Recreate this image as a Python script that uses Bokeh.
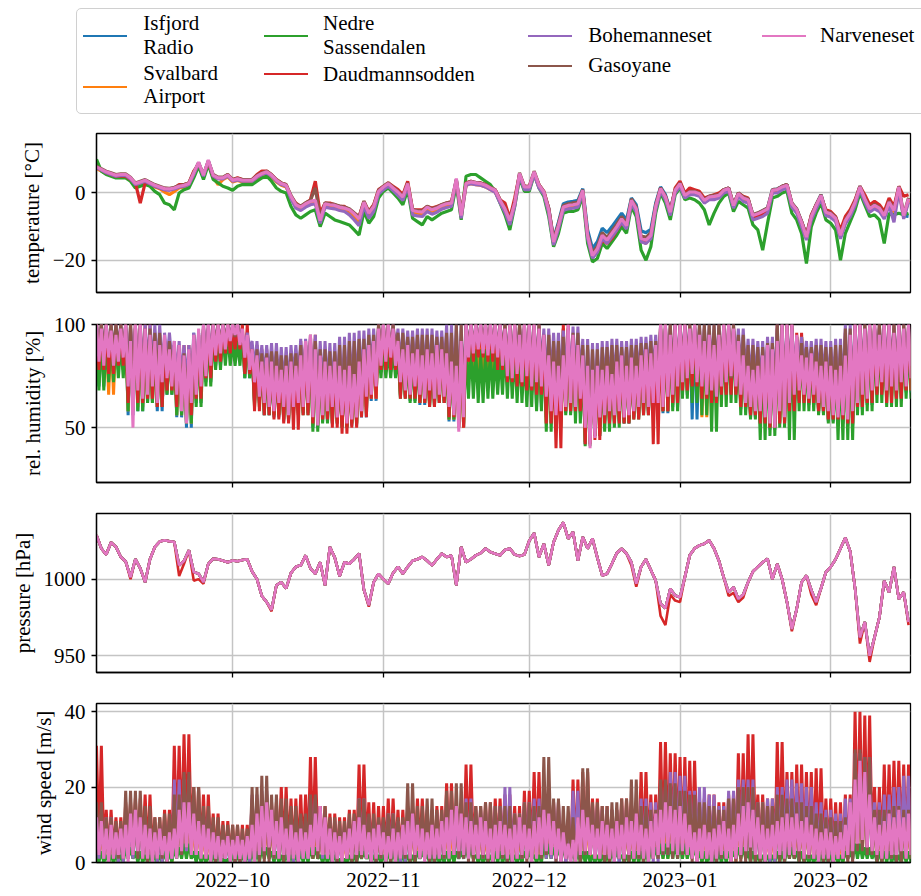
import numpy as np
import pandas as pd
from bokeh.plotting import figure
from bokeh.layouts import column
from bokeh.models import Range1d, FixedTicker, Div
from bokeh.embed import file_html
from bokeh.resources import INLINE

# ---------------------------------------------------------------- data
stations = ["Isfjord Radio", "Svalbard Airport", "Nedre Sassendalen", "Daudmannsodden",
            "Bohemanneset", "Gasoyane", "Narveneset"]
colors = ["#1f77b4", "#ff7f0e", "#2ca02c", "#d62728", "#9467bd", "#8c564b", "#e377c2"]
# legend labels, wrapped as in the reference
legend_labels = ["Isfjord\nRadio", "Svalbard\nAirport", "Nedre\nSassendalen", "Daudmannsodden",
                 "Bohemanneset", "Gasoyane", "Narveneset"]

start_date = "2022-09-03"          # day 0 of every series
span_days = 167.4                  # shown time span
month_ticks = ["2022-10-01", "2022-11-01", "2022-12-01", "2023-01-01", "2023-02-01"]
month_labels = ["2022\u221210", "2022\u221211", "2022\u221212", "2023\u221201", "2023\u221202"]

# temperature [degC], daily values
temp_narveneset = [
    7.8, 7, 6.3, 5.8, 5.3, 5.5, 5.5, 4.5, 2.8, 3.3,
    3.8, 3.0, 2.3, 1.8, 1.3, 1.2, 1.5, 2.0, 2.3, 2.8,
    6, 9.2, 5.3, 9.8, 5.3, 4.5, 4.5, 5.3, 3.8, 4.2,
    3.8, 3.8, 3.8, 5, 5.8, 6.3, 5.3, 3.8, 2.8, 2.3,
    -1, -3.5, -4.2, -3.2, -2.5, -2.2, -8.2, -3.2, -3.5, -3.7,
    -4.2, -4.5, -5, -6.2, -7.7, -2.7, -6, -4, 0.5, 1.8,
    2.8, 1.5, 0.3, -1.2, 2.8, -5.2, -5.5, -5.7, -4.2, -5,
    -4.5, -3.7, -3.2, -3, 4.3, -6.7, 2.8, 3.3, 3, 2.8,
    2.3, 1.5, 0.8, -2.2, -4.7, -8.2, -3, 5.8, 1.8, 1.8,
    6.3, 2.3, 0.3, -5, -14.6, -9.7, -4.2, -3.7, -3.5, -3.2,
    0.8, -12.6, -18.6, -16.6, -12.6, -14, -12, -10, -7.7, -9.7,
    -2.2, -4.7, -13.5, -14, -12.6, -4, 1.3, -1.2, -5.7, 0.8,
    2.8, -0.7, 0.3, 0.3, -0.2, -2.2, -1.2, -1, -0.7, 0.8,
    1.3, -3.7, -0.2, -1.5, -2, -6.7, -6.2, -5.5, -4.7, 0.8,
    1, 1.8, 2.3, -3.2, -5, -8.7, -13.1, -7, -3.7, -0.7,
    -5.7, -6.2, -7.5, -12.6, -8.2, -6, -2.7, 1.8, -1.7, -4.7,
    -3.7, -4.5, -6.7, -2.7, -5.2, 1.8, -6.7, -1.7]
temp_sassendalen = [
    10, 6.5, 5.5, 5, 4.5, 4.5, 4.5, 3.5, 1.5, 2,
    2.5, 2, 0.5, -0.5, -3, -3.5, -5, 0, 1, 1.5,
    4.5, 8, 4, 8.5, 4, 3, 2, 1.5, 0.8, 2,
    2.5, 2.5, 2.5, 3.5, 4.5, 5, 3.5, 1.5, 0.5, 0,
    -4, -6.5, -7.5, -6.5, -5.5, -5, -10, -6, -7, -8,
    -8.5, -9, -9.5, -11, -12.5, -5.5, -9, -7, -1.5, 0.5,
    1.5, 0, -1.5, -3.5, 1, -7.5, -8.5, -9.5, -7, -8,
    -7, -6, -5.5, -5, 2.5, -8, 5, 5.5, 5.5, 4.5,
    3.5, 2.5, 0.5, -3, -6.5, -11, -4, 4.5, 0.5, 0.5,
    5.5, 1.5, -1, -7, -16, -12, -6, -5.5, -5.5, -5,
    -1, -15, -20.5, -19.5, -15, -16.5, -14.5, -12.5, -10, -12,
    -4, -7, -17, -20, -16, -6, 0, -3, -8, -0.5,
    1.5, -2, -1.5, -2, -3, -5, -9.5, -6, -3, -1,
    0, -5.5, -2.5, -3.5, -4.5, -9.5, -11, -17, -9, -1.5,
    -1, 0, 0.5, -6, -8, -12, -21, -10, -6, -3,
    -8, -9, -11, -20, -12, -8.5, -5, 0, -3.5, -7,
    -6.5, -8, -15, -6, -6.5, -6, -6.5, -6]
temp_daudmannsodden = [
    7.5, 7, 6, 5.5, 5, 5, 5, 4, 3, -3,
    3, 3, 2, 1.5, 1, 1, 1.5, 2.5, 2.5, 3,
    6.5, 8.5, 5.5, 9, 5, 4.5, 4.5, 5.5, 4, 4.5,
    4, 4, 4, 5.5, 6.5, 6.5, 5.5, 4, 3, 2.5,
    -1, -3, -4, -3, -2, 3.5, -6, -3, -3, -3.5,
    -4, -4, -5, -6, -7, -2.5, -5.5, -3.5, 1, 2,
    3, 2, 1, -0.5, 3.5, -5, -5, -5, -4, -4.5,
    -4, -3.5, -3, -2.5, 3, -6, 3, 3.5, 3, 3,
    2.5, 1.5, 1, -2, -3, -7.5, -1.5, 5.5, 2, 2,
    6, 2.5, 0.5, -4.5, -14, -9.5, -4, -3.5, -3, -3,
    0.5, -13, -19, -17.5, -14, -15, -13.5, -11, -9, -10,
    -2.5, -5, -14, -15, -13, -4, 1.5, -1, -5.5, 1.5,
    3.5, 0, 1.5, 1, 0.5, -1.5, -1, -0.5, 0, 1,
    1.5, -3.5, 0, -1, -1.5, -7, -7, -6.5, -5, 0.5,
    1, 2, 2.5, -3, -5, -8.5, -12.5, -6.5, -3.5, -1,
    -5, -5.5, -7, -11, -7, -5, -2, 2, -0.5, -3.5,
    -2.5, -3.5, -5.5, -1.5, -4, 2, -1, -0.5]
temp_bohemanneset = [
    7.5, 6.8, 6, 5.5, 5, 5.2, 5.2, 4.2, 2.5, 3,
    3.5, 2.7, 2, 1.5, 1, 0.8, 1.2, 1.7, 2, 2.5,
    5.5, 8.8, 5, 9.3, 5, 4.2, 4.2, 5, 3.5, 3.9,
    3.5, 3.5, 3.5, 4.7, 5.5, 6, 5, 3.5, 2.5, 2,
    -1.8, -4.5, -5.2, -4.2, -3.5, -3.2, -9, -4.2, -4.5, -4.7,
    -5.2, -5.5, -6.5, -8, -9.7, -4, -7.5, -5.5, -0.3, 1,
    2, 0.7, -0.7, -2.2, 2, -6.5, -6.8, -7, -5.5, -6.3,
    -5.7, -4.8, -4.3, -4, 3.5, -7.5, 2.3, 2.8, 2.5, 2.3,
    1.8, 1, 0.2, -3, -5.7, -9.5, -4, 5, 1, 1,
    5.5, 1.5, -0.5, -6, -15.5, -10.7, -5.2, -4.7, -4.5, -4.2,
    0, -13.6, -19.4, -17.6, -13.6, -15, -13, -11, -8.7, -10.7,
    -3.2, -5.7, -14.5, -15, -13.6, -5, 0.5, -2, -6.7, 0,
    2, -1.5, -0.5, -0.5, -1, -3, -2, -2, -1.5, 0,
    0.5, -4.5, -1, -2.5, -3, -8, -7.5, -7, -6, 0,
    0, 1, 1.5, -4.2, -6, -10, -14, -8, -4.7, -1.7,
    -6.7, -7.2, -8.5, -13.6, -9.2, -7, -3.7, 1, -2.7, -5.7,
    -4.7, -5.5, -7.7, -3.7, -8.7, 0.5, -7.7, -2.7]
temp_gasoyane = [
    8, 7.2, 6.5, 6, 5.5, 5.7, 5.7, 4.7, 3, 3.5,
    4, 3.2, 2.5, 2, 1.5, 1.4, 1.7, 2.2, 2.5, 3,
    6.2, 9, 5.5, 9.5, 5.5, 4.7, 4.7, 5.5, 4, 4.4,
    4, 4, 4, 5.2, 6, 6.5, 5.5, 4, 3, 2.5,
    -0.7, -3.2, -3.9, -2.9, -2.2, 1.5, -7.5, -2.9, -3.2, -3.4,
    -3.9, -4.2, -4.7, -5.9, -7.2, -2.4, -5.7, -3.7, 0.8, 2,
    3, 1.7, 0.5, -1, 3, -4.9, -5.2, -5.4, -3.9, -4.7,
    -4.2, -3.4, -2.9, -2.7, 4, -6.4, 3, 3.5, 3.2, 3,
    2.5, 1.7, 1, -2, -4.4, -7.9, -2.7, 6, 2, 2,
    6.5, 2.5, 0.5, -4.7, -14, -9.2, -3.7, -3.2, -3, -2.7,
    1, -12, -17.8, -15.8, -11.8, -13.2, -11.2, -9.2, -7, -9,
    -1.7, -4.2, -12.7, -13.2, -11.8, -3.5, 1.5, -1, -5.4, 1,
    3, -0.5, 0.5, 0.5, 0, -2, -1, -0.7, -0.5, 1,
    1.5, -3.4, 0, -1.2, -1.7, -6.4, -5.9, -5.2, -4.4, 1,
    1.2, 2, 2.5, -3, -4.7, -8.4, -12.8, -6.7, -3.4, -0.5,
    -5.4, -5.9, -7.2, -12.3, -8, -5.7, -2.4, 2, -1.4, -4.4,
    -3.4, -4.2, -6.4, -2.4, -4.9, 2, -6.4, -1.4]
temp_isfjord = [
    7.6, 6.9, 6.2, 5.7, 5.2, 5.4, 5.4, 4.4, 2.7, 3.2,
    3.7, 2.9, 2.2, 1.7, 1.2, 1.1, 1.4, 1.9, 2.2, 2.7,
    5.8, 9, 5.2, 9.6, 5.2, 4.4, 4.4, 5.2, 3.7, 4.1,
    3.7, 3.7, 3.7, 4.9, 5.7, 6.2, 5.2, 3.7, 2.7, 2.2,
    -1.2, -3.7, -4.4, -3.4, -2.7, -2.4, -7.8, -3.4, -3.7, -3.9,
    -4.4, -4.7, -5.2, -6.4, -7.5, -2.9, -6, -4, 0.3, 1.6,
    2.6, 1.3, 0.1, -1.4, 2.5, -5.4, -5.7, -5.9, -4.4, -5.2,
    -4.7, -3.9, -3.4, -3.2, 4, -6.5, 2.6, 3.1, 2.8, 2.6,
    2.1, 1.3, 0.6, -2.4, -4.5, -7.8, -2.8, 5.6, 1.6, 1.6,
    6.1, 2.1, 0.1, -4.5, -13.5, -8.7, -3.2, -2.7, -2.5, -2.2,
    1.3, -11, -16.5, -14.5, -10.5, -11.8, -10, -8, -6, -8,
    -1.5, -3.5, -11.2, -11.8, -10.8, -3, 1.8, -0.5, -5, 1,
    3, -0.5, 0.5, 0.5, 0, -2, -1, -0.8, -0.5, 1,
    1.5, -3.5, 0, -1.3, -1.8, -6.5, -6, -5.3, -4.5, 1,
    1.2, 2, 2.5, -3, -4.8, -8.5, -12.5, -6.8, -3.5, -0.5,
    -5.5, -6, -7.3, -12, -8, -5.8, -2.5, 2, -1.5, -4.5,
    -3.5, -4.3, -6.5, -2.5, -5, 1.5, -6.8, -7]
temp_svalbard = [
    7.3, 6.5, 5.8, 5.3, 4.8, 5, 5, 4, 2.3, 2.8,
    3.3, 2.5, 1.8, 1.3, 0.3, -0.5, 0.5, 1.5, 1.8, 2.3,
    5.5, 8.7, 4.8, 9.3, 4.8, 2.5, 4, 4.8, 3.3, 3.7,
    3.3, 3.3, 3.3, 4.5, 5.3, 5.8, 4.8, 3.3, 2.3, 1.8,
    -1.5, -4, -5, -3.7, -3, -2.7, -8.7, -3.7, -4, -4.2,
    -4.7, -5, -5.7, -7, -8.5, -3.2, -6.5, -4.5, 0, 1.3,
    2.3, 1, -0.2, -1.7, 2.3, -5.7, -6, -6.2, -4.7, -5.5,
    -5, -4.2, -3.7, -3.5, 3.8, -7.2, 2.3, 2.8, 2.5, 2.3,
    1.8, 1, 0.3, -2.7, -5.5, -8.7, -3.5, 5.3, 1.3, 1.3,
    5.8, 1.8, -0.2, -5.5, -15, -10.2, -4.7, -4.2, -4, -3.7,
    0.3, -13.1, -19.1, -17.1, -13.1, -14.5, -12.5, -10.5, -8.2, -10.2,
    -2.7, -5.2, -14, -14.5, -13.1, -4.5, 0.8, -1.7, -6.2, 0.3,
    2.3, -1.2, -0.2, -0.2, -0.7, -2.7, -1.7, -1.5, -1.2, 0.3,
    0.8, -4.2, -0.7, -2, -2.5, -7.2, -6.7, -6, -5.2, 0.3,
    0.5, 1.3, 1.8, -3.7, -5.5, -9.2, -13.6, -7.5, -4.2, -1.2,
    -6.2, -6.7, -8, -13.1, -8.7, -6.5, -3.2, 1.3, -2.2, -5.2,
    -4.2, -5, -7.2, -3.2, -5.7, 1.3, -7.2, -2.2]

# relative humidity [%]: daily (Narveneset) or 2-day (others) high / low
hum_narveneset_hi = [
    100, 98, 100, 97, 95, 98, 100, 92, 100, 100,
    98, 95, 92, 90, 95, 88, 92, 90, 85, 88,
    95, 98, 100, 100, 100, 100, 100, 100, 100, 100,
    98, 95, 88, 85, 82, 84, 82, 80, 78, 80,
    82, 80, 85, 92, 95, 88, 85, 82, 80, 82,
    80, 78, 80, 76, 82, 88, 90, 92, 98, 100,
    100, 98, 92, 88, 90, 86, 88, 85, 88, 86,
    90, 88, 86, 82, 80, 92, 100, 100, 100, 100,
    100, 100, 100, 100, 98, 100, 100, 95, 100, 100,
    100, 98, 95, 85, 82, 80, 85, 100, 95, 90,
    85, 80, 78, 80, 78, 80, 76, 82, 85, 80,
    84, 80, 85, 88, 86, 90, 100, 100, 95, 100,
    100, 100, 98, 100, 95, 92, 95, 90, 95, 100,
    100, 98, 92, 85, 80, 78, 80, 85, 90, 88,
    92, 100, 100, 100, 95, 85, 84, 86, 82, 80,
    82, 80, 78, 80, 85, 95, 100, 100, 98, 100,
    100, 95, 100, 100, 96, 100, 98, 100]
hum_narveneset_lo = [
    82, 80, 84, 80, 82, 84, 70, 50, 68, 64,
    66, 70, 62, 72, 74, 70, 66, 58, 52, 62,
    66, 70, 75, 80, 85, 86, 88, 92, 95, 90,
    84, 78, 72, 65, 62, 60, 58, 62, 60, 56,
    60, 62, 60, 62, 55, 51, 56, 58, 60, 55,
    56, 52, 54, 55, 58, 65, 66, 70, 80, 82,
    84, 80, 72, 68, 66, 70, 66, 64, 68, 64,
    66, 65, 60, 56, 48, 55, 84, 86, 88, 86,
    85, 86, 84, 80, 75, 74, 76, 72, 75, 70,
    72, 70, 65, 58, 56, 58, 60, 62, 60, 64,
    50, 40, 45, 55, 56, 58, 56, 58, 55, 56,
    58, 60, 62, 60, 62, 62, 60, 65, 66, 70,
    72, 74, 76, 72, 70, 66, 68, 65, 70, 72,
    75, 70, 66, 62, 60, 58, 58, 55, 52, 50,
    58, 55, 62, 66, 68, 66, 64, 66, 62, 60,
    58, 56, 55, 56, 54, 58, 62, 66, 64, 68,
    70, 72, 68, 70, 68, 72, 70, 74]
hum_isfjord_hi = [
    100, 98, 96, 98, 98, 96, 90, 93, 90, 86, 96, 98,
    100, 100, 100, 96, 86, 82, 80, 78, 80, 90, 93, 83,
    80, 78, 78, 86, 90, 98, 98, 90, 88, 86, 86, 88,
    84, 90, 98, 98, 98, 98, 98, 98, 98, 98, 93, 80,
    98, 93, 83, 78, 78, 80, 83, 82, 86, 88, 98, 98,
    98, 98, 93, 93, 98, 98, 90, 78, 83, 88, 98, 98,
    93, 84, 80, 80, 78, 93, 98, 98, 98, 98, 98, 98]
hum_isfjord_lo = [
    70, 76, 78, 56, 58, 62, 58, 66, 55, 50, 62, 72,
    80, 84, 86, 74, 62, 56, 55, 53, 57, 57, 50, 53,
    52, 50, 51, 55, 63, 77, 77, 65, 63, 61, 61, 62,
    53, 50, 78, 80, 80, 76, 70, 68, 66, 60, 55, 53,
    57, 57, 42, 46, 53, 53, 52, 55, 57, 59, 57, 60,
    66, 54, 62, 62, 67, 67, 59, 55, 52, 49, 52, 59,
    63, 61, 57, 53, 52, 51, 59, 61, 67, 65, 65, 67]
hum_svalbard_hi = [
    100, 97, 96, 97, 98, 95, 91, 92, 90, 87, 95, 98,
    100, 100, 100, 96, 87, 83, 81, 79, 81, 90, 92, 84,
    81, 79, 79, 87, 91, 98, 98, 91, 89, 87, 87, 89,
    85, 91, 98, 98, 98, 98, 98, 98, 97, 98, 92, 81,
    98, 92, 84, 79, 79, 81, 84, 83, 87, 89, 98, 98,
    98, 97, 94, 92, 98, 98, 91, 79, 84, 89, 98, 98,
    94, 85, 81, 81, 79, 94, 98, 98, 98, 98, 98, 98]
hum_svalbard_lo = [
    72, 66, 78, 58, 60, 63, 60, 67, 56, 52, 63, 73,
    81, 85, 87, 76, 63, 58, 56, 54, 58, 58, 51, 54,
    53, 51, 52, 57, 64, 78, 78, 66, 64, 62, 62, 63,
    54, 50, 76, 74, 78, 77, 71, 69, 67, 62, 52, 54,
    58, 58, 43, 47, 54, 54, 53, 56, 58, 60, 58, 61,
    67, 69, 55, 63, 68, 68, 60, 56, 53, 50, 53, 60,
    64, 62, 58, 54, 53, 52, 60, 62, 68, 66, 64, 68]
hum_sassendalen_hi = [
    95, 92, 92, 95, 95, 92, 90, 90, 88, 85, 92, 95,
    96, 96, 92, 95, 85, 82, 80, 78, 80, 88, 90, 82,
    80, 78, 78, 90, 92, 90, 88, 86, 85, 85, 85, 88,
    84, 90, 90, 88, 88, 86, 90, 88, 86, 92, 92, 84,
    95, 92, 84, 80, 80, 82, 84, 84, 86, 88, 95, 96,
    96, 95, 94, 92, 96, 96, 90, 82, 84, 88, 96, 96,
    94, 86, 84, 82, 82, 92, 95, 96, 96, 96, 95, 95]
hum_sassendalen_lo = [
    68, 72, 74, 58, 58, 62, 60, 66, 56, 52, 60, 70,
    78, 80, 80, 74, 60, 56, 56, 54, 56, 56, 48, 52,
    52, 50, 52, 60, 70, 74, 74, 64, 62, 62, 60, 62,
    54, 52, 64, 62, 64, 66, 64, 62, 60, 58, 48, 50,
    56, 52, 41, 46, 48, 50, 52, 54, 56, 58, 58, 58,
    64, 62, 56, 48, 60, 62, 56, 54, 44, 46, 50, 44,
    58, 58, 56, 52, 44, 44, 56, 58, 62, 60, 60, 64]
hum_daudmannsodden_hi = [
    100, 100, 100, 100, 100, 100, 95, 92, 90, 90, 95, 100,
    100, 100, 100, 100, 90, 88, 85, 84, 85, 92, 95, 88,
    85, 84, 82, 90, 92, 100, 100, 95, 92, 90, 90, 92,
    88, 92, 100, 100, 100, 100, 100, 100, 100, 100, 95, 85,
    100, 95, 88, 84, 84, 85, 88, 86, 90, 92, 100, 100,
    100, 100, 98, 96, 100, 100, 94, 84, 88, 92, 100, 100,
    96, 88, 84, 85, 84, 96, 100, 100, 100, 100, 100, 100]
hum_daudmannsodden_lo = [
    78, 76, 80, 62, 62, 64, 60, 68, 60, 56, 64, 74,
    82, 86, 88, 76, 58, 56, 54, 52, 49, 56, 52, 54,
    50, 47, 50, 55, 64, 78, 78, 64, 64, 62, 60, 62,
    55, 50, 82, 84, 82, 78, 72, 70, 68, 66, 52, 40,
    58, 58, 42, 44, 52, 52, 52, 54, 56, 42, 58, 62,
    68, 70, 64, 62, 66, 66, 60, 56, 52, 50, 52, 58,
    62, 62, 58, 54, 54, 52, 60, 62, 66, 62, 64, 68]
hum_bohemanneset_hi = [
    100, 100, 100, 100, 100, 100, 100, 96, 92, 90, 96, 100,
    100, 100, 100, 96, 92, 90, 91, 89, 90, 93, 95, 92,
    91, 94, 96, 97, 98, 100, 100, 98, 97, 98, 98, 97,
    100, 100, 100, 100, 100, 100, 100, 100, 100, 100, 98, 96,
    97, 99, 93, 91, 92, 93, 92, 93, 94, 95, 100, 100,
    100, 100, 100, 100, 100, 100, 98, 93, 92, 94, 100, 100,
    94, 92, 93, 92, 93, 100, 100, 100, 100, 100, 100, 100]
hum_bohemanneset_lo = [
    90, 88, 90, 80, 80, 80, 78, 82, 75, 72, 78, 86,
    92, 94, 96, 88, 78, 74, 72, 70, 74, 74, 66, 70,
    68, 66, 68, 72, 78, 88, 88, 80, 78, 76, 76, 78,
    70, 68, 90, 92, 90, 88, 84, 82, 82, 80, 72, 72,
    74, 74, 60, 62, 70, 72, 72, 74, 76, 76, 76, 78,
    84, 82, 78, 78, 80, 80, 76, 72, 70, 68, 70, 76,
    80, 76, 74, 70, 68, 68, 76, 78, 82, 80, 78, 80]
hum_gasoyane_hi = [
    100, 100, 100, 100, 100, 98, 96, 92, 88, 86, 92, 98,
    100, 100, 100, 93, 88, 86, 87, 85, 86, 90, 92, 88,
    87, 90, 92, 93, 95, 100, 100, 96, 94, 95, 95, 94,
    96, 100, 100, 100, 100, 100, 100, 100, 100, 100, 95, 92,
    94, 96, 90, 88, 89, 90, 89, 90, 91, 92, 100, 100,
    100, 100, 100, 100, 100, 100, 95, 90, 89, 91, 100, 100,
    91, 89, 90, 89, 90, 98, 100, 100, 100, 100, 100, 100]
hum_gasoyane_lo = [
    88, 86, 88, 70, 72, 74, 72, 78, 68, 64, 72, 82,
    90, 92, 94, 84, 72, 68, 66, 64, 68, 68, 60, 64,
    62, 58, 62, 66, 72, 86, 86, 76, 74, 72, 72, 74,
    64, 60, 88, 90, 88, 86, 80, 78, 78, 76, 66, 66,
    68, 68, 52, 56, 66, 66, 66, 70, 72, 72, 70, 74,
    80, 78, 72, 72, 76, 74, 70, 66, 62, 60, 62, 70,
    74, 70, 68, 62, 60, 60, 70, 72, 76, 74, 72, 74]

# pressure [hPa], daily
pres_common = [
    1028.6, 1020, 1016, 1024, 1021, 1014.4, 1011.5, 1001.3, 1013, 1007,
    998, 1013, 1021, 1024.5, 1025.3, 1024.7, 1024.2, 1009, 1012, 1018.8,
    1004.6, 1003.5, 998, 1010, 1013.3, 1013, 1012, 1011, 1012.2, 1011.6,
    1012.5, 1013, 1005, 1000, 989, 985, 980, 996, 998, 994,
    1004, 1008, 1009, 1015.5, 1007, 1003.5, 1011, 996, 1021, 1014,
    1002, 1011, 1010, 1013, 1016.6, 993, 983, 998, 1003.5, 1000,
    997, 1004, 1008, 1003.5, 1008, 1012, 1013, 1014.4, 1012, 1009,
    1013, 1016.6, 1014.4, 1015.5, 996, 1021, 1011, 1013, 1015.5, 1017,
    1020, 1017.7, 1016.5, 1015.5, 1019, 1019.9, 1016, 1015, 1016, 1025,
    1030, 1014.4, 1023, 1009, 1024, 1031.9, 1037, 1026.4, 1030.8, 1012.2,
    1027.5, 1019.9, 1026.4, 1014, 1002.4, 1003.5, 1010, 1017, 1019.9, 1016.6,
    1011, 997, 1008, 1013, 1006, 999, 984, 981, 993.7, 989.3,
    988.2, 1001.3, 1015.5, 1020, 1022, 1023.1, 1025.3, 1020, 1012, 1001,
    991.5, 994.8, 987.1, 990, 998, 1005, 1008, 1011, 1013.3, 1000,
    1010, 1000, 985, 967.5, 980.6, 998, 1002.4, 993, 985, 994,
    1004.6, 1008, 1013, 1020, 1027, 1018, 994, 962, 972, 950,
    962, 975, 999, 991.5, 1007.9, 987, 991.5, 972]
pres_daudmannsodden = [
    1028.6, 1020, 1016, 1024, 1021, 1014.4, 1011.5, 1000, 1013, 1007,
    998, 1013, 1021, 1024.5, 1025.3, 1024.7, 1024.2, 1002, 1010, 1018.8,
    999, 1000, 997, 1010, 1013.3, 1013, 1012, 1011, 1012.2, 1011.6,
    1012.5, 1013, 1005, 1000, 989, 985, 979, 996, 998, 994,
    1004, 1008, 1009, 1015.5, 1007, 1003.5, 1011, 996, 1021, 1014,
    1002, 1011, 1010, 1013, 1016.6, 993, 982, 998, 1003.5, 1000,
    997, 1004, 1008, 1003.5, 1008, 1012, 1013, 1014.4, 1012, 1009,
    1013, 1016.6, 1014.4, 1015.5, 996, 1021, 1011, 1013, 1015.5, 1017,
    1020, 1017.7, 1016.5, 1015.5, 1019, 1019.9, 1016, 1015, 1016, 1025,
    1030, 1014.4, 1023, 1009, 1024, 1031.9, 1037, 1026.4, 1030.8, 1012.2,
    1027.5, 1019.9, 1026.4, 1014, 1002.4, 1003.5, 1010, 1017, 1019.9, 1016.6,
    1009, 995, 1008, 1013, 1006, 999, 976, 970, 990, 986,
    985, 1001.3, 1015.5, 1020, 1022, 1023.1, 1025.3, 1020, 1012, 1001,
    989, 991, 985, 988, 998, 1005, 1008, 1011, 1013.3, 1000,
    1010, 1000, 985, 966, 980.6, 998, 1002.4, 990, 983, 994,
    1004.6, 1008, 1013, 1020, 1027, 1018, 994, 958, 972, 946,
    962, 975, 999, 991.5, 1007.9, 987, 991.5, 970]

# wind speed [m/s]: daily (Narveneset) or 2-day (others) high / low
wind_narveneset_hi = [
    12, 11, 9, 10, 8, 9, 10, 13, 14, 12,
    10, 9, 8, 9, 7, 8, 9, 14, 16, 16,
    13, 11, 10, 9, 8, 7, 6, 7, 6, 7,
    6, 7, 10, 13, 15, 16, 14, 11, 12, 9,
    10, 8, 9, 8, 10, 13, 15, 12, 9, 8,
    7, 8, 9, 11, 12, 10, 8, 9, 10, 8,
    7, 9, 8, 10, 11, 13, 10, 9, 8, 10,
    9, 11, 12, 14, 15, 13, 12, 11, 10, 12,
    11, 9, 10, 11, 10, 9, 10, 12, 10, 9,
    11, 12, 14, 13, 11, 9, 8, 5, 6, 12,
    14, 12, 10, 9, 11, 10, 9, 11, 10, 12,
    11, 13, 10, 9, 11, 13, 14, 16, 15, 14,
    15, 13, 10, 8, 9, 10, 8, 9, 10, 11,
    9, 10, 13, 15, 16, 14, 12, 10, 9, 10,
    11, 12, 13, 12, 13, 11, 12, 10, 9, 8,
    9, 8, 7, 8, 10, 16, 22, 27, 24, 18,
    12, 10, 11, 13, 12, 14, 12, 13]
wind_narveneset_lo = [
    2, 1, 0, 1, 2, 1, 0, 2, 3, 1,
    1, 0, 1, 2, 0, 1, 1, 3, 4, 2,
    2, 1, 1, 0, 1, 0, 1, 0, 1, 1,
    0, 1, 0, 2, 3, 4, 2, 1, 2, 0,
    1, 0, 1, 1, 2, 3, 2, 1, 0, 1,
    0, 1, 1, 2, 2, 1, 0, 1, 2, 0,
    1, 0, 1, 2, 1, 2, 1, 0, 1, 1,
    1, 2, 1, 2, 3, 2, 1, 2, 1, 2,
    1, 0, 1, 2, 1, 0, 1, 2, 1, 0,
    1, 2, 3, 2, 1, 0, 1, 0, 0, 2,
    3, 2, 1, 1, 2, 1, 0, 1, 1, 2,
    1, 2, 1, 0, 1, 2, 3, 4, 3, 2,
    3, 2, 1, 0, 1, 1, 0, 1, 2, 1,
    0, 1, 2, 3, 4, 2, 1, 0, 1, 1,
    2, 1, 2, 2, 3, 1, 2, 1, 0, 1,
    1, 0, 1, 1, 2, 3, 5, 6, 4, 3,
    2, 1, 1, 2, 2, 3, 1, 2]
wind_isfjord_hi = [
    10, 9, 8, 12, 12, 10, 8, 9, 15, 15, 12, 10,
    8, 7, 6, 6, 12, 14, 12, 10, 9, 8, 12, 10,
    8, 7, 8, 11, 9, 8, 9, 8, 11, 10, 11, 10,
    12, 12, 11, 10, 10, 10, 9, 9, 11, 10, 13, 12,
    9, 10, 13, 11, 10, 10, 11, 10, 11, 10, 13, 15,
    14, 12, 10, 9, 10, 11, 14, 14, 11, 10, 12, 12,
    12, 11, 9, 8, 8, 10, 22, 20, 11, 12, 12, 12]
wind_isfjord_lo = [
    1, 1, 1, 2, 1, 1, 0, 1, 2, 2, 1, 1,
    1, 0, 0, 1, 1, 2, 1, 1, 1, 1, 2, 1,
    0, 1, 1, 1, 0, 1, 1, 0, 1, 1, 1, 0,
    1, 1, 1, 1, 0, 1, 1, 0, 1, 1, 2, 1,
    0, 1, 2, 1, 1, 0, 1, 1, 1, 1, 2, 2,
    2, 1, 1, 0, 1, 1, 2, 2, 1, 1, 1, 1,
    1, 1, 1, 0, 1, 1, 3, 3, 1, 1, 1, 1]
wind_svalbard_hi = [
    9, 10, 9, 11, 13, 9, 9, 8, 14, 16, 11, 9,
    9, 8, 7, 7, 11, 13, 11, 11, 10, 9, 11, 9,
    9, 8, 9, 12, 10, 9, 10, 9, 12, 9, 10, 11,
    11, 13, 12, 11, 9, 11, 10, 8, 12, 11, 12, 11,
    8, 11, 12, 12, 9, 11, 10, 11, 12, 9, 14, 14,
    13, 13, 11, 10, 9, 12, 13, 15, 12, 9, 13, 11,
    11, 12, 10, 9, 7, 11, 21, 21, 12, 11, 13, 11]
wind_svalbard_lo = [
    1, 0, 1, 1, 2, 1, 1, 0, 2, 1, 1, 0,
    1, 1, 0, 0, 1, 1, 2, 1, 0, 1, 1, 1,
    1, 0, 1, 2, 1, 0, 1, 1, 0, 1, 1, 1,
    0, 2, 1, 0, 1, 1, 0, 1, 1, 0, 1, 2,
    1, 0, 1, 2, 0, 1, 1, 0, 2, 1, 1, 3,
    1, 2, 0, 1, 1, 0, 1, 3, 1, 0, 2, 1,
    1, 0, 1, 1, 0, 1, 2, 4, 0, 1, 2, 1]
wind_sassendalen_hi = [
    3, 2, 2, 4, 3, 2, 2, 3, 4, 5, 3, 2,
    2, 1, 2, 2, 3, 4, 3, 2, 2, 3, 4, 2,
    2, 1, 2, 3, 2, 2, 3, 2, 2, 3, 2, 2,
    3, 3, 4, 2, 2, 3, 2, 2, 3, 2, 5, 4,
    4, 3, 3, 2, 2, 3, 2, 3, 3, 4, 5, 5,
    5, 4, 3, 2, 3, 3, 4, 3, 2, 2, 3, 4,
    3, 2, 2, 2, 2, 3, 5, 4, 3, 3, 2, 3]
wind_sassendalen_lo = [
    0, 0, 0, 1, 0, 0, 0, 0, 1, 1, 0, 0,
    0, 0, 0, 0, 0, 1, 0, 0, 0, 0, 1, 0,
    0, 0, 0, 1, 0, 0, 0, 0, 0, 1, 0, 0,
    0, 1, 1, 0, 0, 0, 0, 0, 1, 0, 1, 1,
    1, 0, 0, 0, 0, 1, 0, 0, 0, 1, 1, 1,
    1, 1, 0, 0, 0, 1, 1, 0, 0, 0, 0, 1,
    0, 0, 0, 0, 0, 1, 1, 1, 0, 0, 0, 0]
wind_daudmannsodden_hi = [
    31, 14, 12, 16, 17, 18, 12, 14, 31, 34, 20, 18,
    13, 11, 10, 10, 17, 18, 16, 20, 17, 18, 28, 15,
    13, 12, 14, 26, 16, 15, 17, 14, 15, 17, 13, 15,
    21, 15, 26, 15, 16, 17, 18, 15, 19, 24, 18, 16,
    10, 22, 24, 17, 15, 14, 17, 16, 24, 18, 32, 29,
    28, 27, 17, 18, 16, 18, 29, 34, 18, 17, 32, 24,
    26, 24, 25, 17, 16, 18, 40, 39, 20, 26, 27, 26]
wind_daudmannsodden_lo = [
    3, 2, 2, 4, 3, 2, 1, 2, 5, 6, 3, 2,
    1, 1, 0, 1, 2, 3, 2, 3, 2, 2, 4, 2,
    1, 1, 2, 3, 1, 2, 2, 1, 2, 3, 1, 2,
    3, 2, 3, 2, 2, 3, 2, 1, 2, 3, 2, 1,
    0, 2, 3, 2, 1, 2, 2, 1, 3, 2, 4, 5,
    4, 3, 2, 1, 2, 2, 3, 5, 2, 1, 4, 3,
    3, 2, 3, 2, 1, 2, 6, 6, 2, 3, 4, 3]
wind_bohemanneset_hi = [
    13, 12, 10, 12, 14, 12, 10, 11, 22, 22, 16, 13,
    10, 9, 8, 8, 18, 19, 15, 13, 12, 11, 17, 13,
    11, 10, 12, 17, 12, 11, 13, 11, 14, 12, 14, 13,
    16, 14, 17, 14, 14, 15, 20, 13, 16, 17, 18, 16,
    10, 19, 18, 15, 14, 14, 15, 15, 17, 16, 20, 24,
    23, 19, 20, 18, 15, 19, 22, 22, 16, 17, 20, 22,
    21, 20, 16, 14, 13, 17, 29, 28, 16, 18, 20, 23]
wind_bohemanneset_lo = [
    1, 1, 0, 1, 2, 1, 0, 1, 3, 3, 2, 1,
    0, 1, 0, 0, 1, 2, 1, 1, 0, 1, 2, 1,
    0, 1, 1, 2, 0, 1, 1, 0, 1, 2, 0, 1,
    2, 1, 2, 1, 1, 1, 0, 1, 1, 2, 1, 0,
    0, 1, 2, 1, 1, 0, 1, 1, 1, 0, 2, 3,
    2, 1, 1, 0, 1, 1, 2, 2, 1, 0, 2, 2,
    1, 1, 1, 0, 1, 1, 4, 4, 1, 1, 2, 2]
wind_gasoyane_hi = [
    16, 12, 11, 19, 19, 15, 12, 13, 18, 24, 20, 15,
    12, 10, 10, 9, 20, 23, 18, 17, 15, 13, 18, 15,
    12, 11, 13, 17, 13, 12, 13, 12, 21, 15, 17, 14,
    19, 21, 16, 15, 16, 15, 15, 13, 16, 15, 28, 17,
    15, 12, 25, 16, 15, 16, 17, 22, 15, 14, 22, 21,
    19, 18, 16, 15, 14, 17, 20, 20, 16, 15, 18, 17,
    16, 15, 13, 12, 11, 12, 30, 28, 14, 14, 15, 14]
wind_gasoyane_lo = [
    2, 1, 1, 2, 1, 0, 1, 2, 2, 4, 3, 1,
    0, 1, 0, 1, 0, 0, 1, 0, 1, 2, 1, 2,
    0, 1, 0, 1, 0, 1, 0, 1, 0, 1, 0, 1,
    2, 1, 0, 1, 0, 1, 0, 1, 0, 1, 2, 0,
    1, 0, 2, 1, 0, 1, 0, 1, 0, 1, 2, 1,
    2, 0, 1, 0, 1, 0, 0, 0, 0, 1, 0, 1,
    0, 1, 0, 0, 1, 0, 3, 2, 0, 1, 0, 1]

# ---------------------------------------------------------------- helpers
FONT = "Liberation Serif"
FS = "21px"
DAY_MS = 86400000.0
T0_MS = pd.Timestamp(start_date).value / 1e6
month_ms = [pd.Timestamp(m).value / 1e6 for m in month_ticks]


def to_ms(days):
    return [T0_MS + d * DAY_MS for d in days]


def daily_line(vals):
    return to_ms(range(len(vals))), list(vals)


def zigzag_daily(hi, lo):
    xs, ys = [], []
    for d, (h, l) in enumerate(zip(hi, lo)):
        xs += [d, d + 0.5]
        ys += [h, l]
    return to_ms(xs), ys


def zigzag_two_day(hi, lo):
    xs, ys = [], []
    for k, (h, l) in enumerate(zip(hi, lo)):
        xs += [2 * k, 2 * k + 0.5, 2 * k + 1, 2 * k + 1.5]
        ys += [h, l, h, l]
    return to_ms(xs), ys


def make_panel(ylabel, yrange, yticks, ylabels, height, top, bottom, show_dates):
    p = figure(width=921, height=height, output_backend="svg", toolbar_location=None,
               x_axis_type="datetime",
               x_range=Range1d(T0_MS, T0_MS + span_days * DAY_MS),
               y_range=Range1d(*yrange),
               min_border_left=96, min_border_right=11,
               min_border_top=top, min_border_bottom=bottom)
    p.outline_line_color = "black"
    p.outline_line_width = 1.3
    p.background_fill_color = "white"
    p.border_fill_color = "white"
    xt = FixedTicker(ticks=month_ms)
    yt = FixedTicker(ticks=yticks)
    xa = p.xaxis[0]
    ya = p.yaxis[0]
    xa.ticker = xt
    ya.ticker = yt
    p.xgrid[0].ticker = xt
    p.ygrid[0].ticker = yt
    if show_dates:
        xa.major_label_overrides = {float(m): lab for m, lab in zip(month_ms, month_labels)}
    else:
        xa.major_label_overrides = {float(m): "" for m in month_ms}
    ya.major_label_overrides = {float(t): lab for t, lab in zip(yticks, ylabels)}
    for ax in (xa, ya):
        ax.axis_line_color = "black"
        ax.axis_line_width = 1.3
        ax.major_tick_line_color = "black"
        ax.major_tick_line_width = 1.3
        ax.major_tick_in = 0
        ax.major_tick_out = 5
        ax.minor_tick_line_color = None
        ax.major_label_text_font = FONT
        ax.major_label_text_font_size = FS
        ax.major_label_text_color = "black"
        ax.major_label_standoff = 6
    xa.major_label_standoff = 5
    if not show_dates:
        xa.major_label_text_font_size = "1px"
        xa.major_label_standoff = 0
    ya.axis_label = ylabel
    ya.axis_label_text_font = FONT
    ya.axis_label_text_font_size = FS
    ya.axis_label_text_font_style = "normal"
    ya.axis_label_text_color = "black"
    ya.axis_label_standoff = 6
    for g in (p.xgrid[0], p.ygrid[0]):
        g.grid_line_color = "#c4c4c4"
        g.grid_line_width = 1.5
    return p


# ---------------------------------------------------------------- legend (HTML block)
handle_x = [83.3, 83.3, 264, 264, 528.3, 528.3, 761.7]
handle_y = [36, 87.3, 35.7, 74, 36, 65.7, 36]
label_x = [143.3, 143.3, 323, 323, 588.3, 588.3, 820]
label_first_base = [31, 80.5, 31, 81.7, 43.3, 73.3, 43.3]
LINE_H = 23.5
BASE_OFF = LINE_H / 2 + 7.1
parts = ['<div style="position:relative;width:921px;height:120px;overflow:hidden;'
         'background:white;">',
         '<div style="position:absolute;left:76px;top:7.5px;width:880px;height:106px;'
         'border:1.5px solid #d0d0d0;border-radius:5px;background:white;"></div>']
for hx, hy, c in zip(handle_x, handle_y, colors):
    parts.append('<div style="position:absolute;left:%.1fpx;top:%dpx;width:44px;'
                 'height:2px;background:%s;"></div>' % (hx, int(round(hy - 1)), c))
for lab, lx, lb in zip(legend_labels, label_x, label_first_base):
    parts.append('<div style="position:absolute;left:%.1fpx;top:%.1fpx;'
                 'font-family:\'Liberation Serif\';font-size:21px;line-height:%.1fpx;'
                 'color:black;white-space:nowrap;">%s</div>'
                 % (lx, lb - BASE_OFF, LINE_H, lab.replace("\n", "<br>")))
parts.append('</div>')
leg = Div(text="".join(parts), width=921, height=120, margin=(0, 0, 0, 0))

# ---------------------------------------------------------------- panels
p_t = make_panel("temperature [\u00b0C]", (-29.6, 17.7), [-20, 0], ["\u221220", "0"],
                 187, 13, 15, False)
p_h = make_panel("rel. humidity [%]", (23.4, 100), [50, 100], ["50", "100"],
                 190, 17, 15, False)
p_p = make_panel("pressure [hPa]", (939.1, 1042.8), [950, 1000], ["950", "1000"],
                 190, 16, 15, False)
p_w = make_panel("wind speed [m/s]", (0, 42.2), [0, 20, 40], ["0", "20", "40"],
                 209, 16, 34, True)

temp_series = [temp_isfjord, temp_svalbard, temp_sassendalen, temp_daudmannsodden,
               temp_bohemanneset, temp_gasoyane, temp_narveneset]
for s, c in zip(temp_series, colors):
    x, y = daily_line(s)
    p_t.line(x, y, line_color=c, line_width=3.2)

hum_series = [(hum_isfjord_hi, hum_isfjord_lo), (hum_svalbard_hi, hum_svalbard_lo),
              (hum_sassendalen_hi, hum_sassendalen_lo),
              (hum_daudmannsodden_hi, hum_daudmannsodden_lo),
              (hum_bohemanneset_hi, hum_bohemanneset_lo), (hum_gasoyane_hi, hum_gasoyane_lo)]
for (hi, lo), c in zip(hum_series, colors[:6]):
    x, y = zigzag_two_day(hi, lo)
    p_h.line(x, y, line_color=c, line_width=3.0)
x, y = zigzag_daily(hum_narveneset_hi, hum_narveneset_lo)
p_h.line(x, y, line_color=colors[6], line_width=3.0)

pres_series = [pres_common, pres_common, pres_common, pres_daudmannsodden,
               pres_common, pres_common, pres_common]
for s, c in zip(pres_series, colors):
    x, y = daily_line(s)
    p_p.line(x, y, line_color=c, line_width=2.6)

wind_series = [(wind_isfjord_hi, wind_isfjord_lo), (wind_svalbard_hi, wind_svalbard_lo),
               (wind_sassendalen_hi, wind_sassendalen_lo),
               (wind_daudmannsodden_hi, wind_daudmannsodden_lo),
               (wind_bohemanneset_hi, wind_bohemanneset_lo), (wind_gasoyane_hi, wind_gasoyane_lo)]
for (hi, lo), c in zip(wind_series, colors[:6]):
    x, y = zigzag_two_day(hi, lo)
    p_w.line(x, y, line_color=c, line_width=3.0)
x, y = zigzag_daily(wind_narveneset_hi, wind_narveneset_lo)
p_w.line(x, y, line_color=colors[6], line_width=3.0)

layout = column(leg, p_t, p_h, p_p, p_w, spacing=0)
open("out.html", "w").write(file_html(layout, INLINE))
